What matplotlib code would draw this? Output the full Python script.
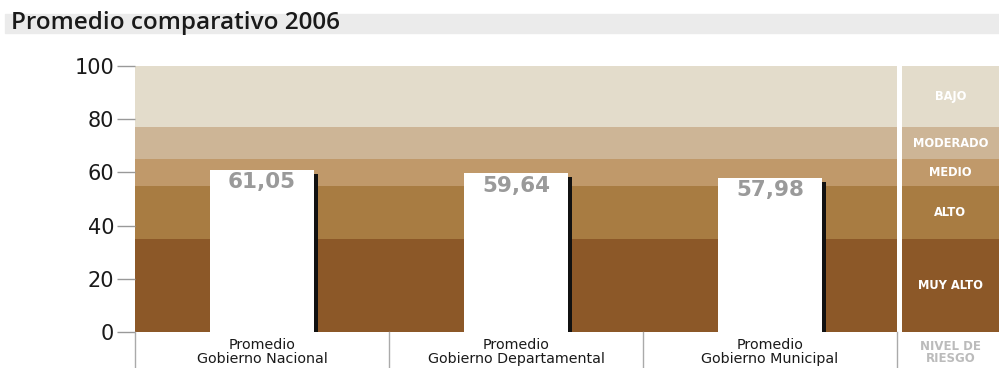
import matplotlib.pyplot as plt
from matplotlib.patches import Rectangle

# Data
categories = ['Promedio\nGobierno Nacional', 'Promedio\nGobierno Departamental', 'Promedio\nGobierno Municipal']
values = [61.05, 59.64, 57.98]
value_labels = ['61,05', '59,64', '57,98']
band_limits = [0, 35, 55, 65, 77, 100]
band_names = ['MUY ALTO', 'ALTO', 'MEDIO', 'MODERADO', 'BAJO']
band_colors = ['#8c5828', '#a87c42', '#c0996a', '#cdb596', '#e3dccb']

W, H = 999, 368
fig = plt.figure(figsize=(W / 100, H / 100), dpi=100)

# Title strip
fig.patches.append(Rectangle((5 / W, 1 - 33 / H), 994 / W, 19 / H,
                             transform=fig.transFigure, color='#ebebeb', zorder=0))
fig.text(11 / W, 1 - 23 / H, 'Promedio comparativo 2006', fontsize=17.5,
         fontweight='semibold', family='Open Sans',
         va='center', ha='left', color='#1a1a1a')

# Main axes
ax = fig.add_axes([135 / W, 36 / H, 762 / W, 266 / H])
ax.set_xlim(-0.5, 2.5)
ax.set_ylim(0, 100)
for i in range(len(band_names)):
    ax.axhspan(band_limits[i], band_limits[i + 1], color=band_colors[i], zorder=0, lw=0)

bar_w = 0.41
x = list(range(len(categories)))
ax.bar(x, values, width=bar_w, color='white', zorder=2, lw=0)
# black shadow on the right edge
shadow_w = 4 / 254
ax.bar([xi + bar_w / 2 + shadow_w / 2 for xi in x], [v - 1.5 for v in values],
       width=shadow_w, color='#111111', zorder=2, lw=0)
for xi, v, lab in zip(x, values, value_labels):
    ax.text(xi, v - 1.0, lab, ha='center', va='top', fontsize=15.5,
            fontweight='bold', color='#9a9a9a', zorder=3)

for s in ax.spines.values():
    s.set_visible(False)
ax.set_yticks([0, 20, 40, 60, 80, 100])
ax.set_yticklabels(['0', '20', '40', '60', '80', '100'], fontsize=15, color='#1a1a1a')
ax.tick_params(axis='y', length=13, width=1, color='#999999', pad=2)
ax.set_xticks([])

# category dividers and labels below
for xb in [-0.5, 0.5, 1.5, 2.5]:
    ax.plot([xb, xb], [0, -15], color='#aaaaaa', lw=1, clip_on=False)
for xi, c in zip(x, categories):
    ax.text(xi, -2.4, c, ha='center', va='top', fontsize=10.3,
            color='#1a1a1a', linespacing=0.95, clip_on=False)

# Legend column
lax = fig.add_axes([902 / W, 36 / H, 97 / W, 266 / H])
lax.set_xlim(0, 1)
lax.set_ylim(0, 100)
lax.axis('off')
for i, name in enumerate(band_names):
    lax.axhspan(band_limits[i], band_limits[i + 1], color=band_colors[i], lw=0)
    lax.text(0.5, (band_limits[i] + band_limits[i + 1]) / 2, name, ha='center',
             va='center', fontsize=8.3, fontweight='bold', color='white')
lax.text(0.5, -3, 'NIVEL DE\nRIESGO', ha='center', va='top', fontsize=8.5,
         fontweight='bold', color='#bbbbbb', linespacing=0.9, clip_on=False)

fig.savefig('out.png', dpi=100)
